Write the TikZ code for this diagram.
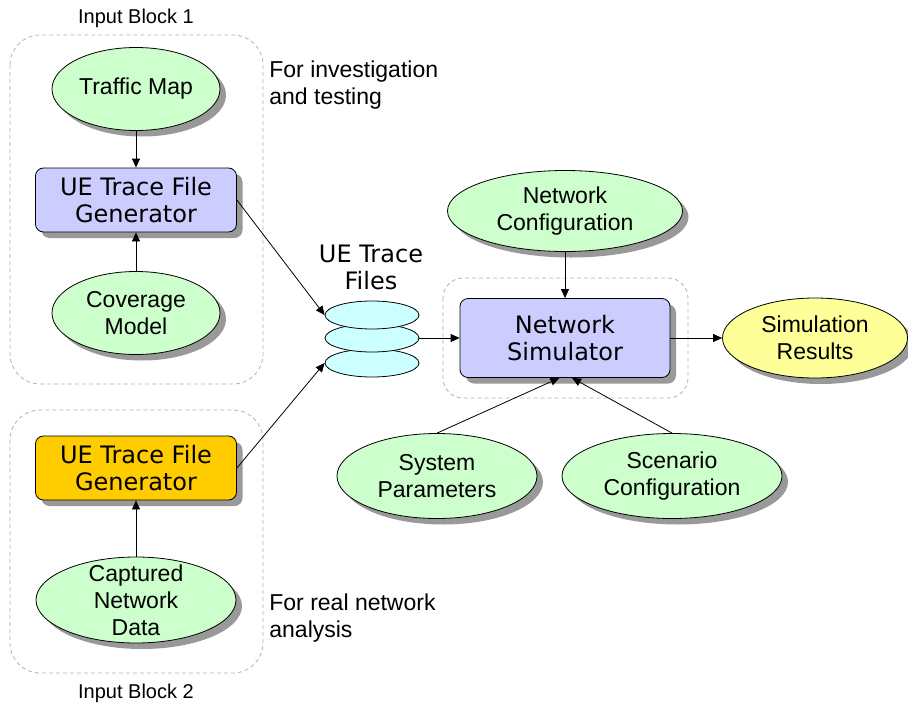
\documentclass[tikz,border=0pt]{standalone}
\usepackage{fontspec}
\setmainfont{Liberation Sans}
\newfontfamily\wideface{DejaVu Sans}
\usetikzlibrary{positioning,shapes.geometric,shadows,arrows.meta}
\definecolor{ovalgreen}{HTML}{CCFFCC}
\definecolor{proclav}{HTML}{CCCCFF}
\definecolor{genorange}{HTML}{FFCC00}
\definecolor{resyellow}{HTML}{FFFF99}
\definecolor{diskcyan}{HTML}{CCFFFF}

\begin{document}
\begin{tikzpicture}[x=1pt, y=-1pt, line width=0.8pt,
    font=\fontsize{23}{27}\selectfont,
    >={Triangle[length=9pt,width=8pt]},
    shade/.style={drop shadow={shadow xshift=6pt, shadow yshift=-6pt, fill=black!40, opacity=1}},
    oval/.style={ellipse, draw, fill=ovalgreen, align=center, inner sep=0pt, shade},
    proc/.style={draw, rounded corners=8pt, fill=proclav, align=center, inner sep=0pt,
        minimum width=201pt, minimum height=64pt, font=\wideface\fontsize{24}{27}\selectfont, shade},
    frame/.style={draw=black!30, dash pattern=on 4pt off 3pt, rounded corners=30pt},
    disk/.style={ellipse, draw, fill=diskcyan, minimum width=94pt, minimum height=28pt, inner sep=0pt},
    note/.style={align=left, anchor=west, inner sep=0pt},
    ]
    \useasboundingbox (0,0) rectangle (908,707);

    % dashed input blocks
    \draw[frame] (10,35) rectangle (263,384);
    \draw[frame] (10,410) rectangle (263,673);
    \draw[frame, rounded corners=20pt] (443,278) rectangle (688,398);
    \node[font=\fontsize{20}{24}\selectfont] (blk1) at (136,18) {Input Block 1};
    \node[font=\fontsize{20}{24}\selectfont] (blk2) at (136,693) {Input Block 2};

    % input block 1
    \node[oval, minimum width=168pt, minimum height=83pt] (traffic) at (136,89) {Traffic Map};
    \node[proc] (gen1) at (136,200) {UE Trace File\\Generator};
    \node[oval, minimum width=168pt, minimum height=83pt] (cover) at (136,313) {Coverage\\Model};
    \node[note] (invest) at (269,85) {For investigation\\and testing};

    % input block 2
    \node[proc, fill=genorange] (gen2) at (136,468) {UE Trace File\\Generator};
    \node[oval, inner ysep=-12pt, minimum width=200pt, minimum height=86pt] (captured) at (136,600) {Captured\\Network\\Data};
    \node[note] (real) at (269,618) {For real network\\analysis};

    % trace files
    \node[disk] (disk3) at (372,363) {};
    \node[disk] (disk2) at (372,338) {};
    \node[disk] (disk1) at (372,315) {};
    \node[font=\wideface\fontsize{24}{27}\selectfont, align=center] (files) at (371,267) {UE Trace\\Files};

    % simulator
    \node[proc, minimum width=210pt, minimum height=79pt] (sim) at (565,338) {Network\\Simulator};
    \node[oval, minimum width=235pt, minimum height=81pt] (netcfg) at (565,211) {Network\\Configuration};
    \node[oval, fill=resyellow, minimum width=185pt, minimum height=80pt] (results) at (815,338) {Simulation\\Results};
    \node[oval, minimum width=200pt, minimum height=85pt] (sysparam) at (437,476) {System\\Parameters};
    \node[oval, minimum width=220pt, minimum height=85pt] (scen) at (672,476) {Scenario\\Configuration};

    \draw[->] (traffic) -- (gen1);
    \draw[->] (cover) -- (gen1);
    \draw[->] (captured) -- (gen2);
    \draw[->] (gen1.east) -- (disk1.west);
    \draw[->] (gen2.east) -- (disk3.west);
    \draw[->] (disk2) -- (sim);
    \draw[->] (netcfg) -- (sim);
    \draw[->] (sim) -- (results);
    \draw[->] (sysparam.north) -- (sim.262);
    \draw[->] (scen.north) -- (sim.280);
\end{tikzpicture}
\end{document}
